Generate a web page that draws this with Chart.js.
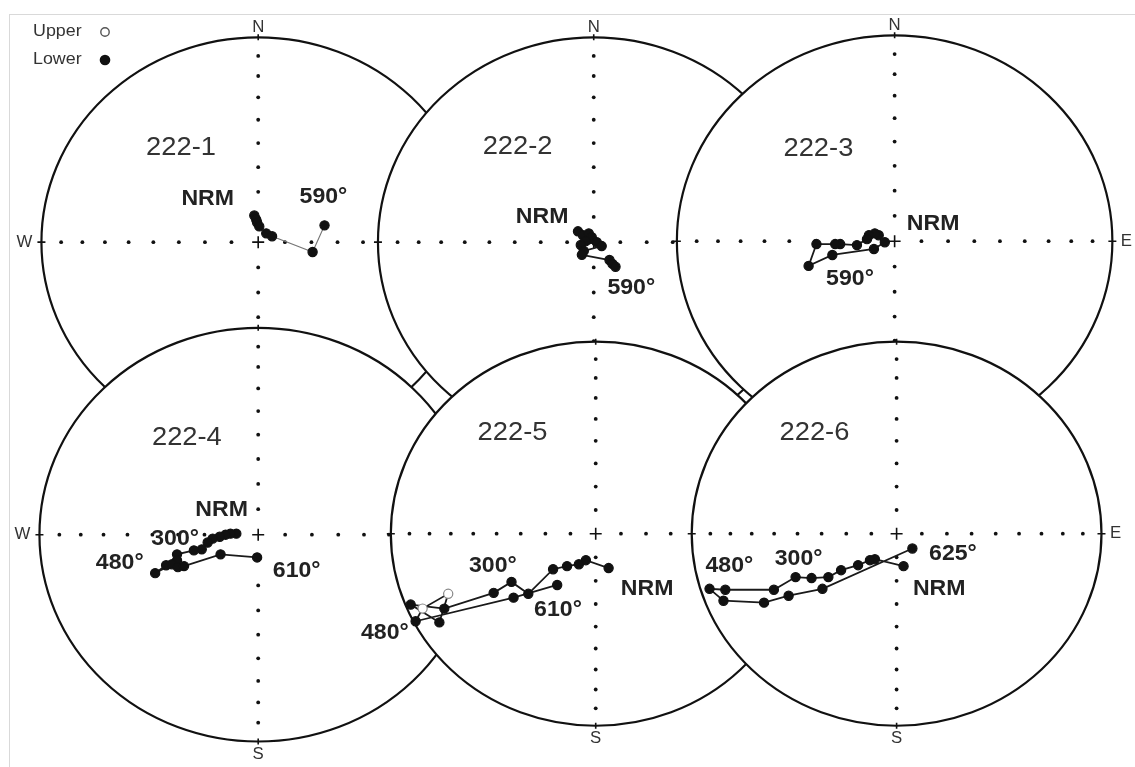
<!DOCTYPE html>
<html><head><meta charset="utf-8">
<script src="https://cdn.jsdelivr.net/npm/chart.js@4.4.1/dist/chart.umd.min.js"></script>
<style>
html,body{margin:0;padding:0;background:#fff;}
#wrap{position:relative;width:1135px;height:767px;overflow:hidden;background:#fff;}
#wrap canvas{position:absolute;left:0;top:0;}
#frame{position:absolute;left:9px;top:14px;width:1140px;height:760px;border-top:1px solid #d9d9d9;border-left:1px solid #d9d9d9;}
</style></head><body>
<div id="wrap"><div id="frame"></div>
<canvas id="c1" width="1135" height="767"></canvas>
<canvas id="c2" width="1135" height="767"></canvas>
<canvas id="c3" width="1135" height="767"></canvas>
<canvas id="c4" width="1135" height="767"></canvas>
<canvas id="c5" width="1135" height="767"></canvas>
<canvas id="c6" width="1135" height="767"></canvas>
</div>
<script>
// ---- data: equal-area projected directions (east, north) in units of net radius ----
const net1East  = [-0.018,-0.009,-0.005,0.005,0.037,0.064,0.251,0.306];
const net1North = [0.130,0.110,0.096,0.077,0.043,0.029,-0.048,0.082];
const net1Upper = [0,0,0,0,0,0,0,0];

const net2East  = [-0.073,-0.050,-0.023,-0.009,-0.037,-0.060,0.014,0.037,-0.046,-0.055,0.073,0.087,0.101];
const net2North = [0.053,0.034,0.043,0.024,0.005,-0.014,0.000,-0.019,-0.043,-0.062,-0.087,-0.106,-0.120];
const net2Upper = [0,0,0,0,0,0,0,0,0,0,0,0,0];

const net3East  = [-0.073,-0.091,-0.118,-0.127,-0.173,-0.250,-0.273,-0.359,-0.395,-0.286,-0.095,-0.045];
const net3North = [0.029,0.038,0.029,0.010,-0.019,-0.014,-0.014,-0.014,-0.120,-0.067,-0.038,-0.005];
const net3Upper = [0,0,0,0,0,0,0,0,0,0,0,0];

const net4East  = [-0.100,-0.127,-0.149,-0.176,-0.208,-0.231,-0.258,-0.294,-0.371,-0.371,-0.421,-0.471,-0.394,-0.367,-0.339,-0.172,-0.005];
const net4North = [0.005,0.005,0.000,-0.010,-0.019,-0.038,-0.071,-0.076,-0.095,-0.124,-0.148,-0.186,-0.143,-0.157,-0.152,-0.095,-0.110];
const net4Upper = [0,0,0,0,0,0,0,0,0,0,0,0,0,0,0,0,0];

const net5East  = [0.063,-0.048,-0.082,-0.140,-0.208,-0.329,-0.411,-0.498,-0.739,-0.903,-0.763,-0.720,-0.845,-0.879,-0.401,-0.188];
const net5North = [-0.179,-0.138,-0.159,-0.169,-0.185,-0.313,-0.251,-0.308,-0.390,-0.369,-0.462,-0.313,-0.390,-0.456,-0.333,-0.267];
const net5Upper = [0,0,0,0,0,0,0,0,0,0,0,1,1,0,0,0];

const net6East  = [0.034,-0.106,-0.130,-0.188,-0.271,-0.333,-0.415,-0.493,-0.599,-0.836,-0.913,-0.845,-0.647,-0.527,-0.362,0.077];
const net6North = [-0.169,-0.133,-0.138,-0.164,-0.190,-0.226,-0.231,-0.226,-0.292,-0.292,-0.287,-0.349,-0.359,-0.323,-0.287,-0.077];
const net6Upper = [0,0,0,0,0,0,0,0,0,0,0,0,0,0,0,0];

// inclination ticks (degrees) marked along the N-S and E-W diameters
const tickInclinations = [10,20,30,40,50,60,70,80];

// texts
const net1Texts = ['222-1','NRM','590°'];
const net2Texts = ['222-2','NRM','590°'];
const net3Texts = ['222-3','NRM','590°'];
const net4Texts = ['222-4','NRM','300°','480°','610°'];
const net5Texts = ['222-5','300°','610°','NRM','480°'];
const net6Texts = ['222-6','300°','625°','NRM','480°'];
const compassLabels = [['N','W'],['N'],['N','E'],['W','S'],['S'],['E','S']];
const legendTexts = ['Upper','Lower'];

// ---- layout (pixels / placement only) ----
const W = 1135, H = 767;
const LAYOUT = [
  {cx:255, cy:240, rx:219, ry:208},
  {cx:594, cy:240, rx:218, ry:208},
  {cx:898, cy:239, rx:220, ry:209},
  {cx:255, cy:537, rx:221, ry:210},
  {cx:596, cy:536, rx:207, ry:195},
  {cx:900, cy:536, rx:207, ry:195}
];
// label positions in net units, same order as texts
const net1TextPos = [[-0.356,0.462],[-0.233,0.212],[0.301,0.221]];
const net2TextPos = [[-0.353,0.466],[-0.239,0.125],[0.174,-0.221]];
const net3TextPos = [[-0.350,0.450],[0.177,0.086],[-0.205,-0.182]];
const net4TextPos = [[-0.326,0.467],[-0.167,0.119],[-0.380,-0.019],[-0.633,-0.138],[0.176,-0.176]];
const net5TextPos = [[-0.406,0.523],[-0.502,-0.169],[-0.184,-0.395],[0.251,-0.287],[-1.029,-0.518]];
const net6TextPos = [[-0.401,0.523],[-0.478,-0.133],[0.275,-0.103],[0.208,-0.287],[-0.816,-0.169]];

const FONT = '"Liberation Sans", Arial, Helvetica, sans-serif';
const STRETCH = 1.05;
function txt(ctx, s, x, y, size, weight, color, align) {
  ctx.save();
  ctx.font = weight + ' ' + size + 'px ' + FONT;
  ctx.fillStyle = color;
  ctx.textAlign = align || 'center';
  ctx.textBaseline = 'middle';
  ctx.translate(x, y);
  ctx.scale(STRETCH, 1);
  ctx.fillText(s, 0, 0);
  ctx.restore();
}

const netPlugin = {
  id: 'net',
  beforeDatasetsDraw(chart, args, o) {
    const ctx = chart.ctx, xs = chart.scales.x, ys = chart.scales.y;
    const cx = xs.getPixelForValue(0), cy = ys.getPixelForValue(0);
    const rx = xs.getPixelForValue(1) - cx, ry = cy - ys.getPixelForValue(1);
    ctx.save();
    ctx.beginPath(); ctx.ellipse(cx, cy, rx, ry, 0, 0, Math.PI * 2);
    ctx.fillStyle = '#fff'; ctx.fill();
    ctx.lineWidth = 2.2; ctx.strokeStyle = '#111'; ctx.stroke();
    ctx.fillStyle = '#111';
    for (const inc of tickInclinations) {
      const r = Math.SQRT2 * Math.sin((90 - inc) / 2 * Math.PI / 180);
      for (const [u, v] of [[r,0],[-r,0],[0,r],[0,-r]]) {
        ctx.beginPath();
        ctx.arc(xs.getPixelForValue(u), ys.getPixelForValue(v), 1.9, 0, Math.PI * 2);
        ctx.fill();
      }
    }
    ctx.lineWidth = 1.6; ctx.strokeStyle = '#111';
    ctx.beginPath();
    ctx.moveTo(cx - rx - 4, cy); ctx.lineTo(cx - rx + 4, cy);
    ctx.moveTo(cx + rx - 4, cy); ctx.lineTo(cx + rx + 4, cy);
    ctx.moveTo(cx, cy - ry - 3); ctx.lineTo(cx, cy - ry + 3);
    ctx.moveTo(cx, cy + ry - 3); ctx.lineTo(cx, cy + ry + 3);
    ctx.moveTo(cx - 6, cy); ctx.lineTo(cx + 6, cy);
    ctx.moveTo(cx, cy - 6); ctx.lineTo(cx, cy + 6);
    ctx.stroke();
    ctx.restore();
  },
  afterDatasetsDraw(chart, args, o) {
    const ctx = chart.ctx, xs = chart.scales.x, ys = chart.scales.y;
    const cx = xs.getPixelForValue(0), cy = ys.getPixelForValue(0);
    const rx = xs.getPixelForValue(1) - cx, ry = cy - ys.getPixelForValue(1);
    o.texts.forEach((t, k) => {
      const p = o.pos[k];
      const px = xs.getPixelForValue(p[0]), py = ys.getPixelForValue(p[1]);
      if (k === 0) txt(ctx, t, px, py, 26, 'normal', '#333');
      else txt(ctx, t, px, py, 22, 'bold', '#222');
    });
    for (const c of o.compass) {
      if (c === 'N') txt(ctx, 'N', cx, cy - ry - 10, 16, 'normal', '#333');
      if (c === 'S') txt(ctx, 'S', cx, cy + ry + 13, 16, 'normal', '#333');
      if (c === 'W') txt(ctx, 'W', cx - rx - 17, cy, 16, 'normal', '#333');
      if (c === 'E') txt(ctx, 'E', cx + rx + 14, cy, 16, 'normal', '#333');
    }
    if (o.legend) {
      txt(ctx, legendTexts[0], 33, 31, 17, 'normal', '#333', 'left');
      txt(ctx, legendTexts[1], 33, 59, 17, 'normal', '#333', 'left');
      ctx.save();
      ctx.lineWidth = 1.4; ctx.strokeStyle = '#555';
      ctx.beginPath(); ctx.arc(105, 32, 4.2, 0, Math.PI * 2); ctx.stroke();
      ctx.fillStyle = '#111';
      ctx.beginPath(); ctx.arc(105, 60, 5.3, 0, Math.PI * 2); ctx.fill();
      ctx.restore();
    }
  }
};

function makeNet(id, i, east, north, upper, texts, pos, lineColor, lineWidth, legend) {
  const L = LAYOUT[i];
  const data = east.map((e, k) => ({x: e, y: north[k]}));
  new Chart(document.getElementById(id), {
    type: 'scatter',
    data: { datasets: [{
      data: data,
      showLine: true,
      borderColor: lineColor,
      borderWidth: lineWidth,
      tension: 0,
      pointRadius: 4.6,
      pointBackgroundColor: upper.map(u => u ? '#fff' : '#111'),
      pointBorderColor: upper.map(u => u ? '#888' : '#111'),
      pointBorderWidth: 1.2
    }]},
    options: {
      responsive: false, animation: false, events: [],
      layout: { padding: 0 },
      plugins: {
        legend: { display: false }, tooltip: { enabled: false },
        net: { texts: texts, pos: pos, compass: compassLabels[i], legend: legend }
      },
      scales: {
        x: { type: 'linear', display: false, min: -L.cx / L.rx, max: (W - L.cx) / L.rx },
        y: { type: 'linear', display: false, min: -(H - L.cy) / L.ry, max: L.cy / L.ry }
      }
    },
    plugins: [netPlugin]
  });
}

makeNet('c1', 0, net1East, net1North, net1Upper, net1Texts, net1TextPos, '#777', 1.2, true);
makeNet('c2', 1, net2East, net2North, net2Upper, net2Texts, net2TextPos, '#1a1a1a', 1.8, false);
makeNet('c3', 2, net3East, net3North, net3Upper, net3Texts, net3TextPos, '#1a1a1a', 1.8, false);
makeNet('c4', 3, net4East, net4North, net4Upper, net4Texts, net4TextPos, '#1a1a1a', 1.8, false);
makeNet('c5', 4, net5East, net5North, net5Upper, net5Texts, net5TextPos, '#1a1a1a', 1.8, false);
makeNet('c6', 5, net6East, net6North, net6Upper, net6Texts, net6TextPos, '#1a1a1a', 1.8, false);
</script>
</body></html>
